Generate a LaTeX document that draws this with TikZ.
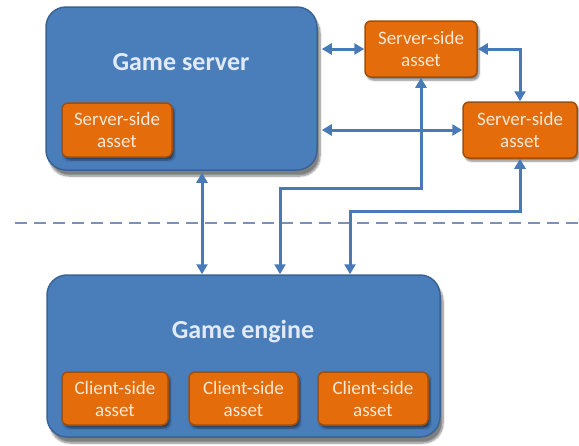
\documentclass[tikz,border=0pt]{standalone}
\usepackage{fontspec}
\setmainfont{Carlito}
\usetikzlibrary{arrows.meta,shadows.blur}
\definecolor{boxblau}{RGB}{74,126,187}
\definecolor{randblau}{RGB}{58,98,148}
\definecolor{boxorange}{RGB}{228,108,10}
\definecolor{randorange}{RGB}{160,78,12}
\definecolor{textblau}{RGB}{225,234,246}
\definecolor{textorange}{RGB}{252,232,214}
\definecolor{linkblau}{RGB}{72,122,184}
\definecolor{strichblau}{RGB}{120,146,184}
\tikzset{
	blockbox/.style={draw=randblau, line width=1.5pt, fill=boxblau, rounded corners=20pt,
		blur shadow={shadow xshift=3pt, shadow yshift=-6pt, shadow blur steps=8, shadow opacity=50}},
	assetbox/.style={draw=randorange, line width=1.5pt, fill=boxorange, rounded corners=6pt,
		text=textorange, align=center, inner sep=0pt, font=\fontsize{19}{22}\selectfont,
		blur shadow={shadow xshift=2pt, shadow yshift=-3pt, shadow blur steps=6, shadow opacity=50}},
	titel/.style={text=textblau, font=\bfseries\fontsize{26}{30}\selectfont},
	link/.style={draw=linkblau, line width=3pt, >={Triangle[length=10pt,width=11pt]}, <->},
	trenner/.style={draw=strichblau, line width=1.8pt, dash pattern=on 12pt off 7pt},
}
\begin{document}
\begin{tikzpicture}[x=1pt, y=1pt]
	\useasboundingbox (0,0) rectangle (579,-445);
	% Trennlinie
	\coordinate (trennL) at (15,-223);
	\coordinate (trennR) at (579,-223);
	\draw[trenner] (trennL) -- (trennR);

	% Game server
	\node[blockbox, minimum width=271pt, minimum height=163pt] (server) at (181.5,-88.5) {};
	\node[titel] (servertitel) at (181,-62) {Game server};
	\node[assetbox, minimum width=110pt, minimum height=54pt] (sasset0) at (117,-130) {Server-side\\asset};
	\node[assetbox, minimum width=112pt, minimum height=56pt] (sasset1) at (421,-49) {Server-side\\asset};
	\node[assetbox, minimum width=114pt, minimum height=56pt] (sasset2) at (520,-130) {Server-side\\asset};

	% Game engine
	\node[blockbox, minimum width=393pt, minimum height=162pt] (engine) at (243.5,-356) {};
	\node[titel] (enginetitel) at (243,-332) {Game engine};
	\node[assetbox, minimum width=106pt, minimum height=53pt] (casset1) at (115,-398.5) {Client-side\\asset};
	\node[assetbox, minimum width=109pt, minimum height=53pt] (casset2) at (243.5,-398.5) {Client-side\\asset};
	\node[assetbox, minimum width=110pt, minimum height=53pt] (casset3) at (373,-398.5) {Client-side\\asset};

	% Verbindungen
	\draw[link, shorten <=4pt] (server.east |- sasset1.west) -- (sasset1.west);
	\draw[link, shorten <=4pt] (server.east |- sasset2.west) -- (sasset2.west);
	\draw[link] (sasset1.east) -| (sasset2.north);
	\draw[link, shorten <=2pt] ([xshift=20.5pt]server.south) -- ([xshift=20.5pt]server.south |- engine.north);
	\draw[link] ([xshift=36.5pt]engine.north) |- ([yshift=-111pt]sasset1.south) -- (sasset1.south);
	\draw[link] ([xshift=106.5pt]engine.north) |- ([yshift=-53pt]sasset2.south) -- (sasset2.south);
\end{tikzpicture}
\end{document}
